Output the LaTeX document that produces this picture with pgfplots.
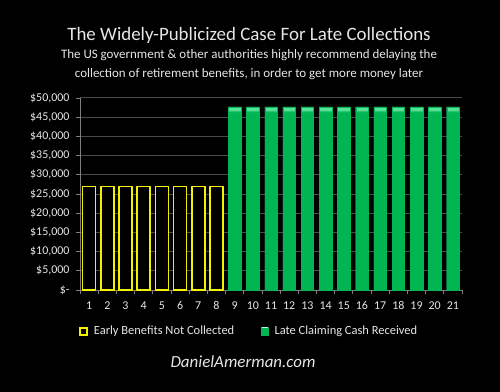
\documentclass[border=0pt]{standalone}
\usepackage{pgfplots}
\pgfplotsset{compat=1.18}
\usepackage{fontspec}
\setmainfont{Carlito}
\definecolor{txt}{HTML}{E6E6E6}
\definecolor{gridc}{HTML}{4A4A4A}
\definecolor{axc}{HTML}{7F7F7F}
\definecolor{ylw}{HTML}{F2F200}
\definecolor{grn}{HTML}{00B552}
\definecolor{grnl}{HTML}{5BE29A}
\pgfdeclareverticalshading{barshade}{100bp}{color(0bp)=(grn); color(73.6bp)=(grn); color(74.2bp)=(grnl); color(100bp)=(grnl)}
\begin{document}
\begin{tikzpicture}
\fill[black] (0bp,0bp) rectangle (500bp,392bp);
\node[txt,font=\fontsize{19}{22}\selectfont] at (249bp,357bp) {The Widely-Publicized Case For Late Collections};
\node[txt,font=\fontsize{13}{15}\selectfont] at (249bp,337bp) {The US government \& other authorities highly recommend delaying the};
\node[txt,font=\fontsize{13}{15}\selectfont] at (249bp,318bp) {collection of retirement benefits, in order to get more money later};
\node[txt,font=\fontsize{17}{20}\selectfont\itshape] at (243bp,30bp) {DanielAmerman.com};
\begin{axis}[
  at={(80bp,102bp)}, anchor=south west,
  width=382bp, height=192bp, scale only axis,
  xmin=0.5, xmax=21.5, ymin=0, ymax=50000,
  scaled y ticks=false,
  ytick={0,5000,...,50000},
  yticklabels={\$-,\$5{,}000,\$10{,}000,\$15{,}000,\$20{,}000,\$25{,}000,\$30{,}000,\$35{,}000,\$40{,}000,\$45{,}000,\$50{,}000},
  xtick={1,...,21},
  minor xtick={0.5,1.5,...,21.5},
  major x tick style={draw=none},
  minor x tick style={axc, line width=0.8pt},
  y tick style={axc, line width=0.8pt},
  tick align=outside,
  major tick length=4bp, minor tick length=4bp,
  ymajorgrids, grid style={gridc, line width=1pt},
  axis line style={axc, line width=1pt},
  axis x line*=bottom, axis y line*=left,
  tick label style={txt, font=\fontsize{12}{14}\selectfont},
  xticklabel style={yshift=-4bp},
  yticklabel style={xshift=-3bp},
  /pgf/number format/assume math mode=true,
  ybar, bar width=13bp, bar shift=0pt,
  clip=false,
  legend style={at={(-0.01,-0.215)}, anchor=west, draw=none, fill=none,
    text=txt, font=\fontsize{12.5}{14}\selectfont, column sep=4bp,
    /tikz/every even column/.append style={column sep=25bp}},
  legend columns=2,
  legend image code/.code={\draw[#1] (0bp,-3.5bp) rectangle (7bp,3.5bp);},
]
\addplot[draw=ylw, line width=1.6pt, fill=black] coordinates {
(1,27000) (2,27000) (3,27000) (4,27000) (5,27000) (6,27000) (7,27000) (8,27000)};
\addlegendentry{Early Benefits Not Collected}
\addplot[draw=grn, fill=grn, shading=barshade, line width=0.3pt, bar width=12.5bp] coordinates {
(9,47700) (10,47700) (11,47700) (12,47700) (13,47700) (14,47700) (15,47700) (16,47700) (17,47700) (18,47700) (19,47700) (20,47700) (21,47700)};
\addlegendentry{Late Claiming  Cash Received}
\end{axis}
\end{tikzpicture}
\end{document}
